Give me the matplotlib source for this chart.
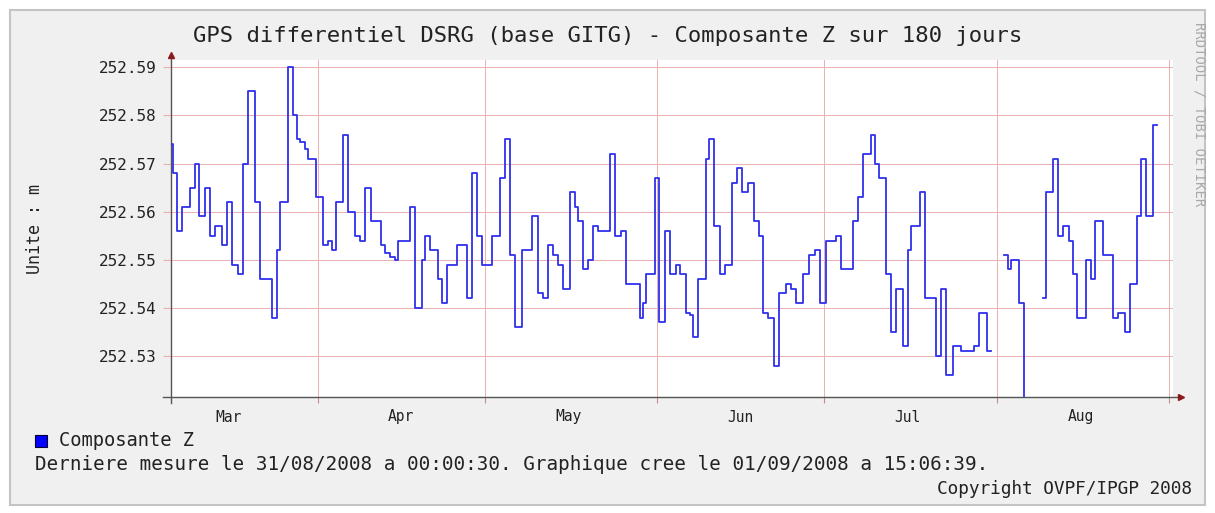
import matplotlib
matplotlib.use('Agg')
import matplotlib.pyplot as plt
import matplotlib.dates as mdates
from matplotlib.patches import Rectangle
import numpy as np
from datetime import datetime

# GPS differentiel DSRG - composante Z, 180 jours
# change points: days since start of graph, value (m); nan = no data
days = [0.0, 0.3, 1.0, 1.9, 3.4, 4.3, 5.0, 6.1, 7.0, 7.9, 9.1, 10.0, 10.9, 12.1,
        13.0, 13.9, 15.1, 16.0, 18.1, 19.0, 19.6, 21.1, 22.0, 22.7, 23.2, 24.1,
        24.6, 26.0, 27.35, 28.2, 28.85, 29.7, 30.9, 31.8, 33.0, 33.9, 34.8, 36.0,
        37.8, 38.4, 39.3, 40.2, 40.8, 42.9, 43.8, 45.0, 45.6, 46.5, 48.0, 48.6,
        49.5, 51.3, 53.1, 54.0, 55.0, 55.8, 57.6, 59.1, 60.0, 60.9, 61.8, 63.0,
        64.8, 65.9, 66.8, 67.7, 68.6, 69.5, 70.4, 71.6, 72.5, 73.1, 74.0, 74.9,
        75.8, 76.7, 78.8, 79.7, 80.9, 81.8, 84.2, 84.8, 85.4, 86.9, 87.7, 88.7,
        89.7, 90.7, 91.5, 92.6, 93.2, 93.8, 94.7, 96.1, 96.6, 97.5, 98.6, 99.6,
        100.7, 101.7, 102.6, 103.6, 104.8, 105.6, 106.3, 107.2, 108.4, 109.3,
        110.5, 111.4, 112.3, 113.5, 114.7, 115.6, 116.6, 117.7, 119.5, 120.4,
        122.5, 123.4, 124.3, 125.8, 126.4, 127.1, 128.5, 129.4, 130.3, 131.5,
        132.4, 133.0, 134.6, 135.5, 137.5, 138.4, 139.3, 140.5, 142.0, 144.3,
        145.1, 146.6, 147.3, 149.7, 150.3, 150.9, 152.4, 153.3, 153.8, 156.6,
        157.2, 158.4, 159.3, 160.2, 161.4, 162.0, 162.8, 164.3, 165.2, 165.9,
        167.4, 169.2, 170.1, 171.4, 172.2, 173.5, 174.3, 175.2, 176.4, 177.1]
values = [252.574, 252.568, 252.556, 252.561, 252.565, 252.570, 252.559, 252.565,
          252.555, 252.557, 252.553, 252.562, 252.549, 252.547, 252.570, 252.585,
          252.562, 252.546, 252.538, 252.552, 252.562, 252.590, 252.580, 252.575,
          252.5745, 252.573, 252.571, 252.563, 252.553, 252.554, 252.552, 252.562,
          252.576, 252.560, 252.555, 252.554, 252.565, 252.558, 252.553, 252.5515,
          252.5505, 252.550, 252.554, 252.561, 252.540, 252.550, 252.555, 252.552,
          252.546, 252.541, 252.549, 252.553, 252.542, 252.568, 252.555, 252.549,
          252.555, 252.567, 252.575, 252.551, 252.536, 252.552, 252.559, 252.543,
          252.542, 252.553, 252.551, 252.549, 252.544, 252.564, 252.561, 252.558,
          252.548, 252.550, 252.557, 252.556, 252.572, 252.555, 252.556, 252.545,
          252.538, 252.541, 252.547, 252.567, 252.537, 252.556, 252.547, 252.549,
          252.547, 252.539, 252.5385, 252.534, 252.546, 252.571, 252.575, 252.557,
          252.547, 252.549, 252.566, 252.569, 252.564, 252.566, 252.558, 252.555,
          252.539, 252.538, 252.528, 252.543, 252.545, 252.544, 252.541, 252.547,
          252.551, 252.552, 252.541, 252.554, 252.555, 252.548, 252.558, 252.563,
          252.572, 252.576, 252.570, 252.567, 252.547, 252.535, 252.544, 252.532,
          252.552, 252.557, 252.564, 252.542, 252.530, 252.544, 252.526, 252.532,
          252.531, 252.532, 252.539, 252.531, np.nan, 252.551, 252.548, 252.550,
          252.541, 252.518, np.nan, 252.542, 252.564, 252.571, 252.555, 252.557,
          252.554, 252.547, 252.538, 252.550, 252.546, 252.558, 252.551, 252.538,
          252.539, 252.535, 252.545, 252.559, 252.571, 252.559, 252.578, np.nan]

start = datetime(2008, 3, 5, 15, 6, 39)
month_starts = [datetime(2008, m, 1) for m in range(4, 10)]
month_mids = [datetime(2008, m, 16) for m in range(3, 9)]
month_names = ['Mar', 'Apr', 'May', 'Jun', 'Jul', 'Aug']
yticks = [252.53, 252.54, 252.55, 252.56, 252.57, 252.58, 252.59]

title = 'GPS differentiel DSRG (base GITG) - Composante Z sur 180 jours'
footer = ('Derniere mesure le 31/08/2008 a 00:00:30. '
          'Graphique cree le 01/09/2008 a 15:06:39.')

W, H = 1215, 513
mono = 'DejaVu Sans Mono'
gridc = '#e8b0b0'

fig = plt.figure(figsize=(W / 100, H / 100), dpi=100)
fig.patch.set_facecolor('white')
fig.patches.append(Rectangle((10 / W, 1 - 505 / H), 1195 / W, 495 / H,
                             transform=fig.transFigure, facecolor='#f0f0f0',
                             edgecolor='#c4c4c4', lw=1.5, zorder=-10))

ax = fig.add_axes([171 / W, 1 - 397 / H, 1002 / W, 337 / H])
ax.set_facecolor('white')

x0 = mdates.date2num(start)
x = x0 + np.array(days)
ax.step(x, values, where='post', color='#3030ee', lw=1.3, zorder=3)

ax.set_xlim(x0, x0 + 180)
ax.set_ylim(252.5215, 252.5915)

ax.set_yticks(yticks)
ax.set_yticklabels(['%.2f' % v for v in yticks], fontfamily=mono, fontsize=11.5)
ax.set_xticks(mdates.date2num(month_starts))
ax.set_xticklabels([])
ax.set_xticks(mdates.date2num(month_mids), minor=True)
ax.set_xticklabels(month_names, minor=True, fontfamily=mono, fontsize=10.5)
ax.tick_params(axis='y', length=6, color=gridc, pad=4, labelcolor='#222222')
ax.tick_params(axis='x', which='major', length=4.5, color='#c09090')
ax.tick_params(axis='x', which='minor', length=0, pad=9, labelcolor='#222222')
ax.grid(True, which='major', color=gridc, lw=0.7)
for s in ax.spines.values():
    s.set_visible(False)

# axes with arrows
ax.plot([0, 0], [-0.018, 1.01], transform=ax.transAxes, color='#555555', lw=1, clip_on=False)
ax.plot([-0.008, 1.005], [0, 0], transform=ax.transAxes, color='#555555', lw=1, clip_on=False)
ax.plot([0], [1.015], marker='^', ms=5, color='#8b1a1a', transform=ax.transAxes, clip_on=False)
ax.plot([1.008], [0], marker='>', ms=5, color='#8b1a1a', transform=ax.transAxes, clip_on=False)

fig.text(0.5, 1 - 36 / H, title, ha='center', va='center', fontfamily=mono,
         fontsize=16, color='#222222')
fig.text(35 / W, 1 - 229 / H, 'Unite : m', rotation=90, ha='center', va='center',
         fontfamily=mono, fontsize=12, color='#222222')
fig.text(1199 / W, 1 - 22 / H, 'RRDTOOL / TOBI OETIKER', rotation=270, ha='center',
         va='top', fontfamily=mono, fontsize=10, color='#aaaaaa')

fig.patches.append(Rectangle((35 / W, 1 - 447 / H), 12 / W, 12 / H,
                             transform=fig.transFigure, facecolor='#0000ff',
                             edgecolor='#000033', lw=0.8))
fig.text(59 / W, 1 - 441 / H, 'Composante Z', ha='left', va='center',
         fontfamily=mono, fontsize=13.5, color='#222222')
fig.text(35 / W, 1 - 464 / H, footer, ha='left', va='center',
         fontfamily=mono, fontsize=13.9, color='#222222')
fig.text(1192 / W, 1 - 489 / H, 'Copyright OVPF/IPGP 2008', ha='right', va='center',
         fontfamily=mono, fontsize=12.8, color='#222222')

fig.savefig('out.png', dpi=100, facecolor=fig.get_facecolor())
